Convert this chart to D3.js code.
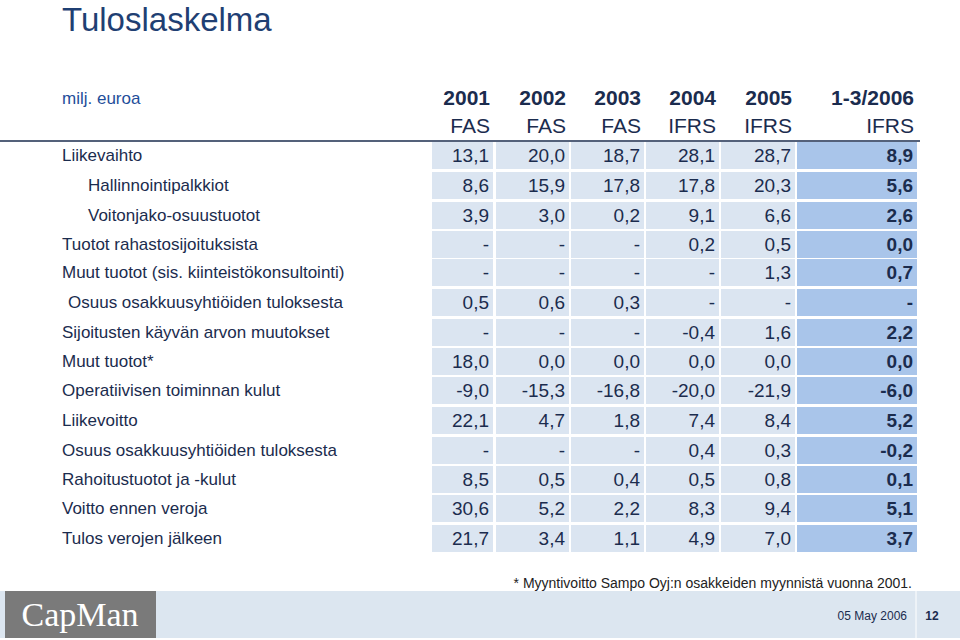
<!DOCTYPE html>
<html><head><meta charset="utf-8">
<script src="https://cdn.jsdelivr.net/npm/d3@7"></script>
<style>body{margin:0;background:#fff}</style>
</head><body>
<script>
const years = ["2001", "2002", "2003", "2004", "2005", "1-3/2006"];
const standards = ["FAS", "FAS", "FAS", "IFRS", "IFRS", "IFRS"];
const labels = ["Liikevaihto", "Hallinnointipalkkiot", "Voitonjako-osuustuotot", "Tuotot rahastosijoituksista",
  "Muut tuotot (sis. kiinteistökonsultointi)", "Osuus osakkuusyhtiöiden tuloksesta", "Sijoitusten käyvän arvon muutokset",
  "Muut tuotot*", "Operatiivisen toiminnan kulut", "Liikevoitto", "Osuus osakkuusyhtiöiden tuloksesta",
  "Rahoitustuotot ja -kulut", "Voitto ennen veroja", "Tulos verojen jälkeen"];
const indent = [0, 26, 26, 0, 0, 6, 0, 0, 0, 0, 0, 0, 0, 0];
const values = [
  ["13,1", "20,0", "18,7", "28,1", "28,7", "8,9"],
  ["8,6", "15,9", "17,8", "17,8", "20,3", "5,6"],
  ["3,9", "3,0", "0,2", "9,1", "6,6", "2,6"],
  ["-", "-", "-", "0,2", "0,5", "0,0"],
  ["-", "-", "-", "-", "1,3", "0,7"],
  ["0,5", "0,6", "0,3", "-", "-", "-"],
  ["-", "-", "-", "-0,4", "1,6", "2,2"],
  ["18,0", "0,0", "0,0", "0,0", "0,0", "0,0"],
  ["-9,0", "-15,3", "-16,8", "-20,0", "-21,9", "-6,0"],
  ["22,1", "4,7", "1,8", "7,4", "8,4", "5,2"],
  ["-", "-", "-", "0,4", "0,3", "-0,2"],
  ["8,5", "0,5", "0,4", "0,5", "0,8", "0,1"],
  ["30,6", "5,2", "2,2", "8,3", "9,4", "5,1"],
  ["21,7", "3,4", "1,1", "4,9", "7,0", "3,7"]
];
const rowY = [155, 185, 215, 244, 272, 302, 332, 361, 390, 420, 450, 479, 508, 538];
const colLeft = [432, 496, 571, 646, 721, 797];
const colRight = [494, 570, 645, 720, 796, 918];

const W = 960, H = 640, navy = "#1b2c4e", font = "Liberation Sans, Arial, sans-serif";
const svg = d3.select("body").append("svg").attr("width", W).attr("height", H)
  .style("font-family", font);

svg.append("text").attr("x", 62).attr("y", 31).attr("fill", "#1f3f73")
  .attr("font-size", 33).text("Tuloslaskelma");

svg.append("text").attr("x", 62).attr("y", 104).attr("fill", "#1f4e9a")
  .attr("font-size", 17).text("milj. euroa");

// header
years.forEach((y, i) => {
  svg.append("text").attr("x", colRight[i] - 4).attr("y", 105).attr("text-anchor", "end")
    .attr("fill", navy).attr("font-size", 21).attr("font-weight", "bold").text(y);
  svg.append("text").attr("x", colRight[i] - 4).attr("y", 133).attr("text-anchor", "end")
    .attr("fill", navy).attr("font-size", 21).text(standards[i]);
});
svg.append("line").attr("x1", 0).attr("x2", 920).attr("y1", 141).attr("y2", 141)
  .attr("stroke", navy).attr("stroke-width", 1.5);

// cells
labels.forEach((lab, r) => {
  const cy = rowY[r];
  colLeft.forEach((x0, c) => {
    svg.append("rect").attr("x", x0).attr("y", cy - 13).attr("width", colRight[c] - x0 - 1)
      .attr("height", 27).attr("fill", c === 5 ? "#a9c5ea" : "#dbe5f1");
    svg.append("text").attr("x", colRight[c] - 5).attr("y", cy + 7).attr("text-anchor", "end")
      .attr("fill", navy).attr("font-size", 19).attr("font-weight", c === 5 ? "bold" : "normal")
      .text(values[r][c]);
  });
  svg.append("text").attr("x", 62 + indent[r]).attr("y", cy + 6).attr("fill", navy)
    .attr("font-size", 17).text(lab);
});

// footer
svg.append("text").attr("x", 912).attr("y", 588).attr("text-anchor", "end").attr("fill", "#222")
  .attr("font-size", 14).text("* Myyntivoitto Sampo Oyj:n osakkeiden myynnistä vuonna 2001.");
svg.append("rect").attr("x", 0).attr("y", 591).attr("width", W).attr("height", 47).attr("fill", "#dce6f0");
svg.append("rect").attr("x", 5).attr("y", 591).attr("width", 151).attr("height", 47).attr("fill", "#7a7a7a");
svg.append("text").attr("x", 80).attr("y", 626).attr("text-anchor", "middle").attr("fill", "#fff")
  .attr("font-family", "Liberation Serif, serif").attr("font-size", 34).text("CapMan");
svg.append("line").attr("x1", 916).attr("x2", 916).attr("y1", 591).attr("y2", 638).attr("stroke", "#fff");
svg.append("text").attr("x", 907).attr("y", 620).attr("text-anchor", "end").attr("fill", navy)
  .attr("font-size", 12).text("05 May 2006");
svg.append("text").attr("x", 932).attr("y", 620).attr("text-anchor", "middle").attr("fill", navy)
  .attr("font-size", 12).attr("font-weight", "bold").text("12");
</script>
</body></html>
